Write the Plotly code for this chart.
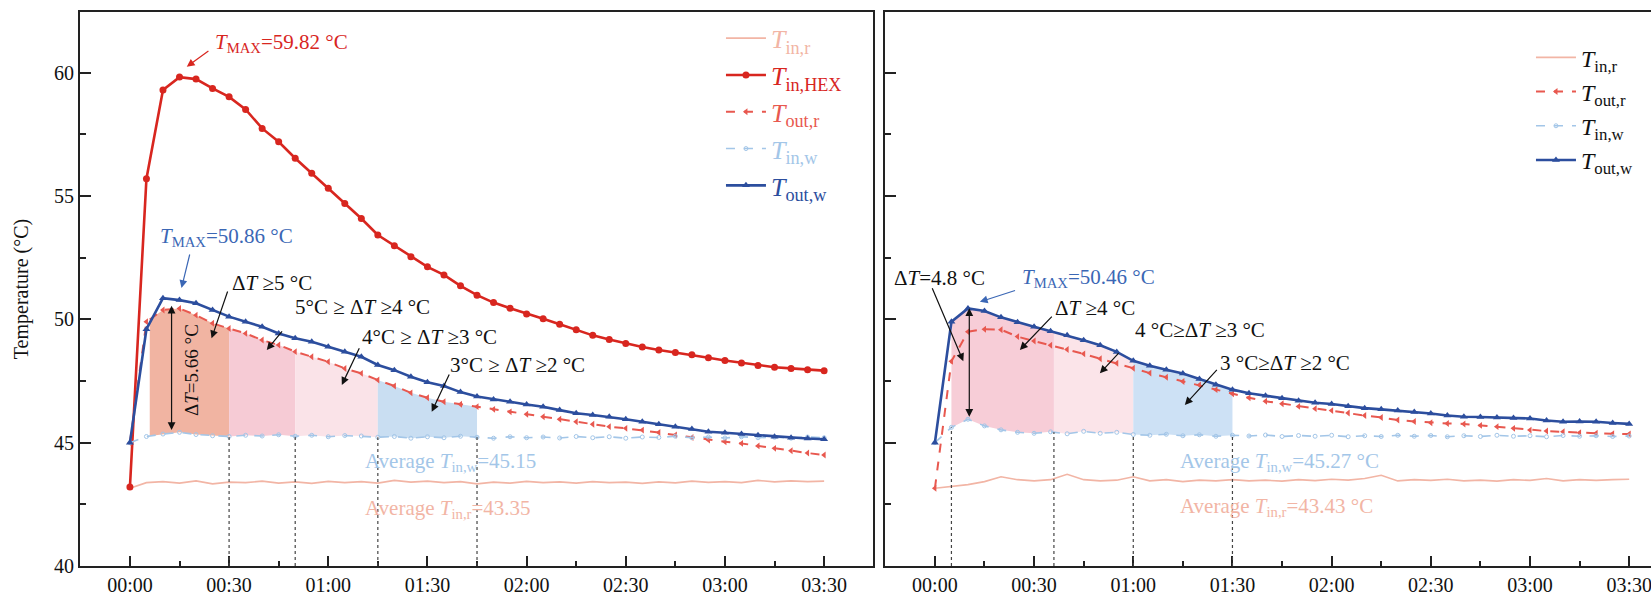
import numpy as np
import plotly.graph_objects as go

# ---------------- data (time in minutes) ----------------
t = list(range(0, 211, 5))

# left panel
inr_L = [43.15, 43.38, 43.42, 43.36, 43.45, 43.33, 43.40, 43.38, 43.44, 43.36, 43.41, 43.35, 43.43,
         43.38, 43.42, 43.36, 43.47, 43.40, 43.44, 43.38, 43.42, 43.33, 43.40, 43.36, 43.43, 43.38,
         43.41, 43.36, 43.42, 43.38, 43.40, 43.35, 43.41, 43.37, 43.44, 43.39, 43.42, 43.38, 43.47,
         43.41, 43.45, 43.42, 43.44]
hex_L = [43.20, 55.70, 59.30, 59.82, 59.74, 59.36, 59.02, 58.51, 57.74, 57.20, 56.53, 55.92, 55.31,
         54.70, 54.09, 53.42, 52.98, 52.54, 52.13, 51.80, 51.36, 50.98, 50.68, 50.45, 50.22, 50.02,
         49.80, 49.58, 49.35, 49.18, 49.02, 48.88, 48.76, 48.66, 48.56, 48.44, 48.33, 48.23, 48.13,
         48.06, 48.01, 47.96, 47.92]
outr_L = [45.00, 49.90, 50.38, 50.44, 50.17, 49.84, 49.63, 49.43, 49.16, 48.96, 48.69, 48.48, 48.28,
          48.01, 47.81, 47.54, 47.30, 47.02, 46.82, 46.66, 46.56, 46.46, 46.35, 46.25, 46.15, 46.05,
          45.95, 45.85, 45.75, 45.65, 45.58, 45.51, 45.41, 45.31, 45.21, 45.11, 45.04, 44.97, 44.87,
          44.77, 44.67, 44.58, 44.50]
inw_L = [45.00, 45.25, 45.35, 45.42, 45.33, 45.28, 45.25, 45.30, 45.27, 45.32, 45.26, 45.30, 45.24,
         45.29, 45.27, 45.22, 45.25, 45.18, 45.24, 45.20, 45.26, 45.22, 45.18, 45.24, 45.20, 45.23,
         45.19, 45.25, 45.20, 45.24, 45.18, 45.23, 45.21, 45.26, 45.20, 45.23, 45.19, 45.24, 45.20,
         45.22, 45.18, 45.23, 45.20]
outw_L = [45.00, 49.60, 50.86, 50.78, 50.65, 50.38, 50.11, 49.90, 49.70, 49.43, 49.23, 49.09, 48.89,
          48.69, 48.48, 48.15, 47.94, 47.67, 47.45, 47.30, 47.05, 46.87, 46.75, 46.66, 46.55, 46.46,
          46.32, 46.19, 46.12, 46.05, 45.95, 45.85, 45.75, 45.65, 45.55, 45.44, 45.40, 45.35, 45.30,
          45.24, 45.20, 45.17, 45.14]

# right panel
inr_R = [43.15, 43.22, 43.30, 43.42, 43.62, 43.50, 43.45, 43.50, 43.72, 43.50, 43.45, 43.48, 43.62,
         43.45, 43.50, 43.42, 43.48, 43.45, 43.50, 43.45, 43.48, 43.44, 43.50, 43.46, 43.52, 43.48,
         43.55, 43.68, 43.45, 43.50, 43.47, 43.52, 43.45, 43.48, 43.44, 43.50, 43.47, 43.55, 43.45,
         43.50, 43.47, 43.50, 43.52]
outr_R = [43.15, 48.30, 49.50, 49.60, 49.58, 49.30, 49.12, 48.95, 48.78, 48.60, 48.40, 48.22, 48.02,
          47.82, 47.65, 47.48, 47.34, 47.15, 46.98, 46.82, 46.68, 46.58, 46.47, 46.38, 46.30, 46.20,
          46.10, 46.02, 45.92, 45.86, 45.81, 45.78, 45.76, 45.70, 45.65, 45.58, 45.51, 45.47, 45.44,
          45.40, 45.38, 45.36, 45.35]
inw_R = [45.00, 45.62, 45.95, 45.68, 45.52, 45.42, 45.38, 45.44, 45.36, 45.46, 45.38, 45.42, 45.33,
         45.30, 45.34, 45.28, 45.32, 45.26, 45.30, 45.27, 45.31, 45.25, 45.29, 45.26, 45.30, 45.24,
         45.28, 45.25, 45.30, 45.26, 45.29, 45.24, 45.28, 45.25, 45.30, 45.26, 45.28, 45.24, 45.29,
         45.26, 45.28, 45.25, 45.27]
outw_R = [45.00, 49.90, 50.44, 50.34, 50.08, 49.88, 49.70, 49.52, 49.35, 49.15, 48.95, 48.68, 48.32,
          48.12, 47.96, 47.80, 47.58, 47.35, 47.15, 47.00, 46.90, 46.80, 46.70, 46.62, 46.57, 46.48,
          46.40, 46.35, 46.30, 46.24, 46.18, 46.10, 46.05, 46.04, 46.02, 46.00, 45.98, 45.90, 45.85,
          45.86, 45.85, 45.80, 45.76]

# Delta-T zone boundaries (minutes)
zones_L = [6, 30, 50, 75, 105]
zones_R = [5, 36, 60, 90]
zone_colors_L = ["#f1b4a2", "#f6cbd5", "#fae3e8", "#c9def2"]
zone_colors_R = ["#f7cdd7", "#fbe4e9", "#cde1f5"]

tick_vals = [0, 30, 60, 90, 120, 150, 180, 210]
tick_text = ["00:00", "00:30", "01:00", "01:30", "02:00", "02:30", "03:00", "03:30"]

C_INR = "#f2b5a5"
C_HEX = "#d8261f"
C_OUTR = "#e8584f"
C_INW = "#a3c6e8"
C_OUTW = "#2c4e9e"
C_TMAXW = "#3b67b5"
FONT = "Liberation Serif"

fig = go.Figure()


def zone_polys(xa, ya, top, bot, bounds, colors):
    for (a, b), col in zip(zip(bounds[:-1], bounds[1:]), colors):
        xs = [a] + [ti for ti in t if a < ti < b] + [b]
        up = np.interp(xs, t, top).tolist()
        lo = np.interp(xs, t, bot).tolist()
        fig.add_trace(go.Scatter(x=xs + xs[::-1], y=up + lo[::-1], fill="toself", fillcolor=col,
                                 line=dict(width=0), mode="lines", showlegend=False,
                                 hoverinfo="skip", xaxis=xa, yaxis=ya))


zone_polys("x", "y", outr_L, inw_L, zones_L, zone_colors_L)
zone_polys("x2", "y2", outw_R, inw_R, zones_R, zone_colors_R)


def lab(sub, col=None):
    s = f"<i>T</i><sub>{sub}</sub>"
    if col:
        s = f'<span style="color:{col}">{s}</span>'
    return s


# left traces
fig.add_trace(go.Scatter(x=t, y=inr_L, mode="lines", line=dict(color=C_INR, width=1.6),
                         name=lab("in,r", C_INR), legend="legend", xaxis="x", yaxis="y"))
fig.add_trace(go.Scatter(x=t, y=hex_L, mode="lines+markers", line=dict(color=C_HEX, width=2.6),
                         marker=dict(symbol="circle", size=7, color=C_HEX),
                         name=lab("in,HEX", C_HEX), legend="legend", xaxis="x", yaxis="y"))
fig.add_trace(go.Scatter(x=t, y=outr_L, mode="lines+markers", line=dict(color=C_OUTR, width=2, dash="dash"),
                         marker=dict(symbol="triangle-left", size=6, color=C_OUTR),
                         name=lab("out,r", C_OUTR), legend="legend", xaxis="x", yaxis="y"))
fig.add_trace(go.Scatter(x=t, y=inw_L, mode="lines+markers", line=dict(color=C_INW, width=1.6, dash="dash"),
                         marker=dict(symbol="circle-open", size=4, color=C_INW),
                         name=lab("in,w", C_INW), legend="legend", xaxis="x", yaxis="y"))
fig.add_trace(go.Scatter(x=t, y=outw_L, mode="lines+markers", line=dict(color=C_OUTW, width=2.6),
                         marker=dict(symbol="triangle-up", size=7, color=C_OUTW),
                         name=lab("out,w", C_OUTW), legend="legend", xaxis="x", yaxis="y"))

# right traces
fig.add_trace(go.Scatter(x=t, y=inr_R, mode="lines", line=dict(color=C_INR, width=1.6),
                         name=lab("in,r"), legend="legend2", xaxis="x2", yaxis="y2"))
fig.add_trace(go.Scatter(x=t, y=outr_R, mode="lines+markers", line=dict(color=C_OUTR, width=2, dash="dash"),
                         marker=dict(symbol="triangle-left", size=6, color=C_OUTR),
                         name=lab("out,r"), legend="legend2", xaxis="x2", yaxis="y2"))
fig.add_trace(go.Scatter(x=t, y=inw_R, mode="lines+markers", line=dict(color=C_INW, width=1.6, dash="dash"),
                         marker=dict(symbol="circle-open", size=4, color=C_INW),
                         name=lab("in,w"), legend="legend2", xaxis="x2", yaxis="y2"))
fig.add_trace(go.Scatter(x=t, y=outw_R, mode="lines+markers", line=dict(color=C_OUTW, width=2.6),
                         marker=dict(symbol="triangle-up", size=7, color=C_OUTW),
                         name=lab("out,w"), legend="legend2", xaxis="x2", yaxis="y2"))

# dotted vertical lines at zone boundaries
shapes = []
for b in zones_L[1:]:
    shapes.append(dict(type="line", xref="x", yref="y", x0=b, x1=b, y0=40,
                       y1=float(np.interp(b, t, inw_L)), line=dict(color="#444", width=1.2, dash="dot")))
for b in zones_R:
    shapes.append(dict(type="line", xref="x2", yref="y2", x0=b, x1=b, y0=40,
                       y1=float(np.interp(b, t, inw_R)), line=dict(color="#444", width=1.2, dash="dot")))

ann = []


def text(xr, yr, x, y, s, col="#111", size=20, angle=0, xanchor="left"):
    ann.append(dict(xref=xr, yref=yr, x=x, y=y, text=s, showarrow=False, xanchor=xanchor,
                    yanchor="middle", textangle=angle, font=dict(family=FONT, size=size, color=col)))


def arrow(xr, yr, x0, y0, x1, y1, col="#111", head=2, side="end", w=1.2, hs=1.3):
    ann.append(dict(xref=xr, yref=yr, axref=xr, ayref=yr, x=x1, y=y1, ax=x0, ay=y0, text="",
                    showarrow=True, arrowhead=head, arrowside=side, arrowcolor=col, arrowwidth=w,
                    arrowsize=hs, startarrowhead=head, startarrowsize=hs))


# left annotations
text("x", "y", 25.1, 61.2, "<i>T</i><sub>MAX</sub>=59.82 °C", C_HEX, size=21)
arrow("x", "y", 24.2, 60.92, 17.2, 60.24, C_HEX)
text("x", "y", 8.5, 53.34, "<i>T</i><sub>MAX</sub>=50.86 °C", C_TMAXW, size=21)
arrow("x", "y", 18.2, 52.69, 15.6, 51.27, C_TMAXW)
text("x", "y", 30.3, 51.47, "Δ<i>T</i> ≥5 °C", size=21)
arrow("x", "y", 29.7, 51.19, 24.7, 49.23)
text("x", "y", 49.3, 50.51, "5°C ≥ Δ<i>T</i> ≥4 °C", size=21)
arrow("x", "y", 46.4, 49.57, 41.4, 48.76)
text("x", "y", 69.6, 49.29, "4°C ≥ Δ<i>T</i> ≥3 °C", size=21)
arrow("x", "y", 69.6, 48.89, 64.1, 47.34)
text("x", "y", 96.2, 48.15, "3°C ≥ Δ<i>T</i> ≥2 °C", size=21)
arrow("x", "y", 96.8, 47.82, 91.3, 46.25)
arrow("x", "y", 12.6, 45.45, 12.6, 50.55, side="end+start")
text("x", "y", 18.8, 47.95, "Δ<i>T</i>=5.66 °C", angle=-90, xanchor="center", size=19)
text("x", "y", 70.5, 44.23, "Average <i>T</i><sub>in,w</sub>=45.15", C_INW, size=21)
text("x", "y", 70.5, 42.31, "Average <i>T</i><sub>in,r</sub>=43.35", C_INR, size=21)

# right annotations
text("x2", "y2", -13.0, 51.67, "Δ<i>T</i>=4.8 °C", size=21)
arrow("x2", "y2", -1.0, 51.32, 8.6, 48.3)
text("x2", "y2", 25.7, 51.67, "<i>T</i><sub>MAX</sub>=50.46 °C", C_TMAXW, size=21)
arrow("x2", "y2", 24.7, 51.19, 13.6, 50.71, C_TMAXW)
text("x2", "y2", 35.7, 50.46, "Δ<i>T</i> ≥4 °C", size=21)
arrow("x2", "y2", 35.8, 50.17, 25.7, 48.76)
text("x2", "y2", 59.9, 49.57, "4 °C≥Δ<i>T</i> ≥3 °C", size=21)
arrow("x2", "y2", 56.0, 48.69, 49.9, 47.81)
text("x2", "y2", 85.6, 48.24, "3 °C≥Δ<i>T</i> ≥2 °C", size=21)
arrow("x2", "y2", 85.7, 48.01, 75.6, 46.53)
arrow("x2", "y2", 10.4, 45.99, 10.4, 50.45, side="end+start")
text("x2", "y2", 73.5, 44.23, "Average <i>T</i><sub>in,w</sub>=45.27 °C", C_INW, size=21)
text("x2", "y2", 73.5, 42.39, "Average <i>T</i><sub>in,r</sub>=43.43 °C", C_INR, size=21)

xa_common = dict(tickmode="array", tickvals=tick_vals, ticktext=tick_text, ticks="inside",
                 ticklen=10, tickwidth=1.5, tickcolor="#222", showline=True, linecolor="#222",
                 linewidth=2, mirror=True, showgrid=False, zeroline=False,
                 ticklabeloverflow="allow",
                 minor=dict(tickvals=[15, 45, 75, 105, 135, 165, 195], ticks="inside", ticklen=5,
                            tickwidth=1.5, tickcolor="#222"),
                 tickfont=dict(family=FONT, size=20, color="#111"))
ya_common = dict(range=[40, 62.46], tickvals=[40, 45, 50, 55, 60], ticks="inside", ticklen=11,
                 tickwidth=1.5, tickcolor="#222", showline=True, linecolor="#222", linewidth=2,
                 showgrid=False, zeroline=False,
                 minor=dict(tickvals=[42.5, 47.5, 52.5, 57.5, 62.5], ticks="inside", ticklen=6,
                            tickwidth=1.5, tickcolor="#222"),
                 tickfont=dict(family=FONT, size=20, color="#111"))

fig.update_layout(
    width=1651, height=599,
    margin=dict(l=80, r=0, t=12, b=33),
    paper_bgcolor="white", plot_bgcolor="white",
    font=dict(family=FONT, size=20, color="#111"),
    xaxis=dict(domain=[0, 0.5048], range=[-15.1, 224.8], anchor="y", **xa_common),
    yaxis=dict(domain=[0, 1], anchor="x", mirror=True,
               title=dict(text="Temperature (°C)", font=dict(family=FONT, size=20), standoff=20),
               **ya_common),
    xaxis2=dict(domain=[0.5124, 1.0], range=[-15.1, 216.6], anchor="y2", **xa_common),
    yaxis2=dict(domain=[0, 1], anchor="x2", mirror=False, showticklabels=False, **ya_common),
    legend=dict(x=0.408, y=0.995, xanchor="left", yanchor="top", bgcolor="rgba(0,0,0,0)",
                font=dict(family=FONT, size=26), tracegroupgap=0, itemwidth=40),
    legend2=dict(x=0.9236, y=0.958, xanchor="left", yanchor="top", bgcolor="rgba(0,0,0,0)",
                 font=dict(family=FONT, size=24, color="#111"), tracegroupgap=0, itemwidth=40),
    shapes=shapes,
    annotations=ann,
    showlegend=True,
)

fig.write_html("out.html", config={"displayModeBar": False},
               post_script="document.body.style.margin='0';document.body.style.overflow='hidden';")
